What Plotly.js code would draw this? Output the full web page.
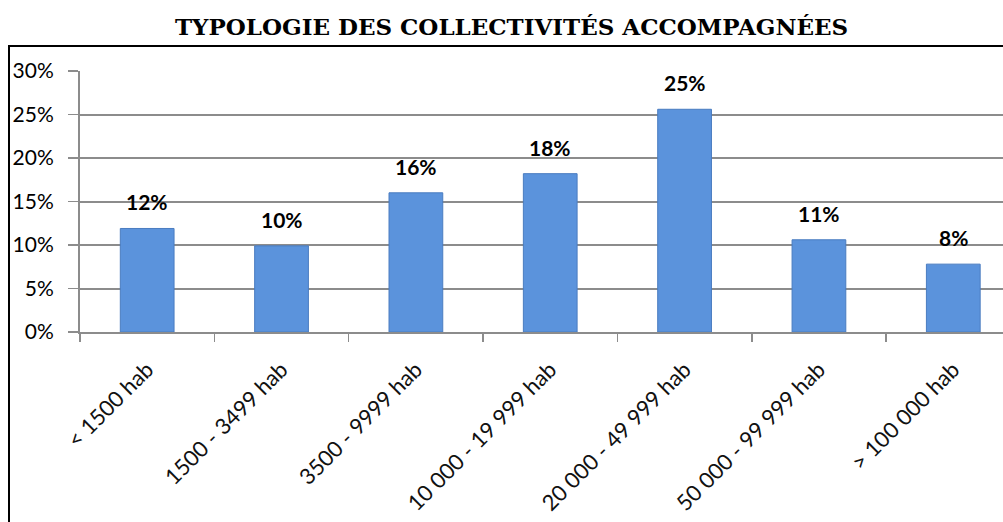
<!DOCTYPE html>
<html>
<head>
<meta charset="utf-8">
<script src="https://cdn.plot.ly/plotly-3.0.1.min.js"></script>
<style>
html,body{margin:0;padding:0;background:#fff;overflow:hidden;}
#wrap{position:relative;width:1003px;height:522px;overflow:hidden;}
#chart{position:absolute;left:0;top:0;width:1003px;height:522px;}
#frame{position:absolute;left:8px;top:45px;width:1100px;height:600px;border:2px solid #000;pointer-events:none;}
</style>
</head>
<body>
<div id="wrap">
<div id="chart"></div>
<div id="frame"></div>
</div>
<script>
const categories = ["< 1500 hab", "1500 - 3499 hab", "3500 - 9999 hab", "10 000 - 19 999 hab", "20 000 - 49 999 hab", "50 000 - 99 999 hab", "> 100 000 hab"];
const values = [11.9, 9.9, 16.0, 18.2, 25.6, 10.6, 7.8];
const valueLabels = ["12%", "10%", "16%", "18%", "25%", "11%", "8%"];
const yTickVals = [0, 5, 10, 15, 20, 25, 30];
const yTickText = ["0%", "5%", "10%", "15%", "20%", "25%", "30%"];
const chartTitle = "TYPOLOGIE DES COLLECTIVITÉS ACCOMPAGNÉES";

const trace = {
  type: "bar",
  x: categories,
  y: values,
  width: 0.4,
  marker: {color: "#5b93dc", line: {color: "#4a7cc0", width: 1}},
  hoverinfo: "none"
};

const annotations = categories.map((c, i) => ({
  x: c, y: values[i], xref: "x", yref: "y",
  text: valueLabels[i], showarrow: false,
  yanchor: "bottom", yshift: 12,
  font: {family: "Lato, 'Open Sans', sans-serif", size: 21, color: "#000", weight: "bold"}
}));

const layout = {
  width: 1003, height: 522,
  margin: {l: 80, r: 0, t: 71, b: 190},
  paper_bgcolor: "#fff", plot_bgcolor: "#fff",
  showlegend: false,
  title: {
    text: "<b>" + chartTitle + "</b>",
    font: {family: "'DejaVu Serif', serif", size: 23, color: "#000"},
    x: 0.51, xanchor: "center", y: 0.948, yanchor: "middle"
  },
  xaxis: {
    type: "category",
    range: [-0.5, 6.37],
    tickson: "boundaries",
    ticks: "outside", ticklen: 8, tickcolor: "#8c8c8c", tickwidth: 1.5,
    showline: true, linecolor: "#8c8c8c", linewidth: 2,
    showgrid: false,
    tickangle: -45,
    ticklabelstandoff: 14,
    tickfont: {family: "Lato, 'Open Sans', sans-serif", size: 22, color: "#111"},
    fixedrange: true
  },
  yaxis: {
    range: [0, 30],
    tickvals: yTickVals, ticktext: yTickText,
    ticks: "outside", ticklen: 10, tickcolor: "#8c8c8c", tickwidth: 1.5,
    showline: true, linecolor: "#8c8c8c", linewidth: 2,
    showgrid: true, gridcolor: "#8c8c8c", gridwidth: 2,
    zeroline: false,
    tickfont: {family: "Lato, 'Open Sans', sans-serif", size: 21, color: "#000"},
    ticklabelstandoff: 10,
    fixedrange: true
  },
  annotations: annotations
};

Plotly.newPlot("chart", [trace], layout, {displayModeBar: false, staticPlot: true});
</script>
</body>
</html>
